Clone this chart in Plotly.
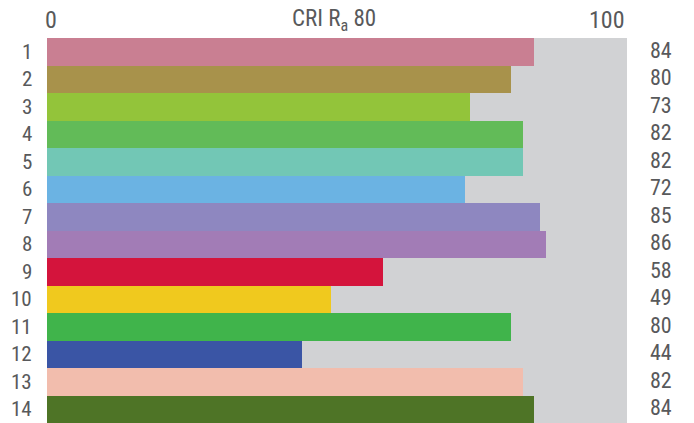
import plotly.graph_objects as go

categories = ["1", "2", "3", "4", "5", "6", "7", "8", "9", "10", "11", "12", "13", "14"]
values = [84, 80, 73, 82, 82, 72, 85, 86, 58, 49, 80, 44, 82, 84]
colors = ["#c97f92", "#a8924b", "#93c43a", "#62bb58", "#72c7b5", "#6bb3e3", "#8e87c0",
          "#a27cb6", "#d4143c", "#f0c91e", "#40b44b", "#3a55a5", "#f2bdad", "#4e7426"]
max_value = 100
axis_labels = ["0", "100"]
title_text = "CRI R<sub>a</sub> 80"

FONT = "Roboto Condensed, Roboto, sans-serif"
TXT = "#58595b"

ypos = list(range(len(categories)))

fig = go.Figure()
fig.add_trace(go.Bar(y=ypos, x=[max_value] * len(categories), orientation="h",
                     marker=dict(color="#d1d2d4", line=dict(width=0)), hoverinfo="skip",
                     showlegend=False))
fig.add_trace(go.Bar(y=ypos, x=values, orientation="h", customdata=categories,
                     hovertemplate="%{customdata}: %{x}<extra></extra>",
                     marker=dict(color=colors, line=dict(width=0)), showlegend=False))

anns = []
for i, (c, v) in enumerate(zip(categories, values)):
    anns.append(dict(x=-0.022, xref="paper", y=i, yref="y", text=c, showarrow=False,
                     xanchor="right", yanchor="middle",
                     font=dict(family=FONT, size=21, color=TXT)))
    anns.append(dict(x=1.0586, xref="paper", y=i, yref="y", yshift=1.5, text=str(v),
                     showarrow=False, xanchor="center", yanchor="middle",
                     font=dict(family=FONT, size=22, color=TXT)))
anns.append(dict(x=0, xref="x", y=1.0, yref="paper", yshift=18, xshift=-4,
                 text=axis_labels[0], showarrow=False, xanchor="left", yanchor="middle",
                 font=dict(family=FONT, size=24, color=TXT)))
anns.append(dict(x=max_value, xref="x", y=1.0, yref="paper", yshift=18, xshift=0,
                 text=axis_labels[1], showarrow=False, xanchor="right", yanchor="middle",
                 font=dict(family=FONT, size=24, color=TXT)))
anns.append(dict(x=0.4945, xref="paper", y=1.0, yref="paper", yshift=18, text=title_text,
                 showarrow=False, xanchor="center", yanchor="middle",
                 font=dict(family=FONT, size=23, color=TXT)))

fig.update_layout(
    width=694, height=423,
    margin=dict(l=47, r=67, t=38, b=0),
    barmode="overlay", bargap=0,
    paper_bgcolor="white", plot_bgcolor="white",
    xaxis=dict(range=[0, max_value], visible=False, fixedrange=True),
    yaxis=dict(range=[len(categories) - 0.5, -0.5], visible=False, fixedrange=True),
    annotations=anns,
)
fig.write_html("out.html", config={"displayModeBar": False},
               post_script="document.body.style.margin='0';")
